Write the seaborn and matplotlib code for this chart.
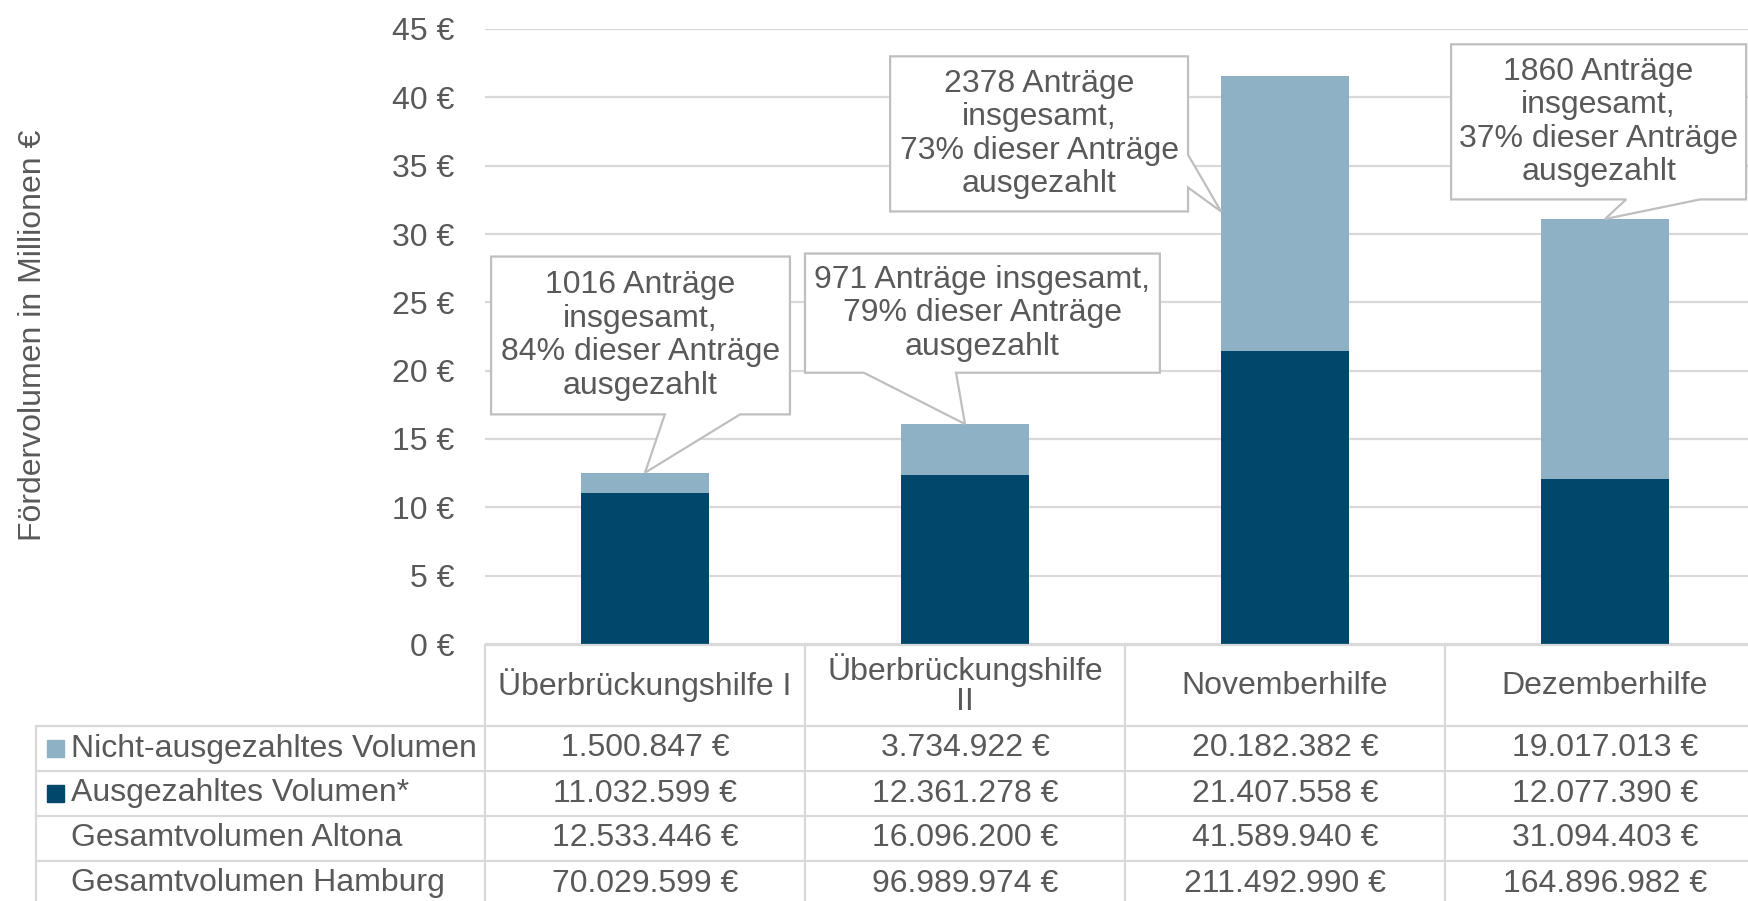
import numpy as np
import matplotlib
matplotlib.use("Agg")
import matplotlib.pyplot as plt
from matplotlib.patches import Polygon, Rectangle
import seaborn as sns

# data
categories = ["Überbrückungshilfe I", "Überbrückungshilfe\nII", "Novemberhilfe", "Dezemberhilfe"]
nicht_ausgezahlt = [1500847, 3734922, 20182382, 19017013]
ausgezahlt = [11032599, 12361278, 21407558, 12077390]
gesamt_altona = [12533446, 16096200, 41589940, 31094403]
gesamt_hamburg = [70029599, 96989974, 211492990, 164896982]
antraege = [1016, 971, 2378, 1860]
quote = [84, 79, 73, 37]
row_labels = ["Nicht-ausgezahltes Volumen", "Ausgezahltes Volumen*",
              "Gesamtvolumen Altona", "Gesamtvolumen Hamburg"]
y_ticks = [0, 5, 10, 15, 20, 25, 30, 35, 40, 45]

DARK = "#00476B"
LIGHT = "#8EB1C5"
GREY_TXT = "#595959"
GRID = "#D9D9D9"
BOX = "#BFBFBF"
FS = 23

sns.set_theme(style="white")
plt.rcParams["font.family"] = ["Liberation Sans", "DejaVu Sans"]

W, H = 1749, 901
fig = plt.figure(figsize=(W / 100, H / 100), dpi=100)
fig.patch.set_facecolor("white")

# main axes, placed in pixel terms
ax_l, ax_r, ax_t, ax_b = 485, 1765, 29, 644
ax = fig.add_axes([ax_l / W, 1 - ax_b / H, (ax_r - ax_l) / W, (ax_b - ax_t) / H])

paid_m = [v / 1e6 for v in ausgezahlt]
total_m = [(a + b) / 1e6 for a, b in zip(ausgezahlt, nicht_ausgezahlt)]
xcat = list(range(len(categories)))

sns.barplot(x=xcat, y=total_m, color=LIGHT, saturation=1, width=0.4, linewidth=0, ax=ax, zorder=2)
sns.barplot(x=xcat, y=paid_m, color=DARK, saturation=1, width=0.4, linewidth=0, ax=ax, zorder=3)

ax.set_xlim(-0.5, 3.5)
ax.set_ylim(0, 45)
ax.set_yticks(y_ticks)
ax.set_yticklabels([f"{t} €" for t in y_ticks])
ax.tick_params(axis="y", length=0, pad=22, labelsize=FS, labelcolor=GREY_TXT)
ax.tick_params(axis="x", length=0, labelbottom=False)
ax.set_xlabel("")
ax.set_ylabel("")
ax.yaxis.grid(True, color=GRID, lw=1.6)
ax.set_axisbelow(True)
for s in ax.spines.values():
    s.set_visible(False)


def callout(x0, x1, y0, y1, base, tip, text, side="bottom"):
    if side == "bottom":
        verts = [(x0, y1), (x1, y1), (x1, y0), (base[1], y0), tip, (base[0], y0), (x0, y0)]
    else:
        verts = [(x0, y1), (x1, y1), (x1, base[1]), tip, (x1, base[0]), (x1, y0), (x0, y0)]
    ax.add_patch(Polygon(verts, closed=True, facecolor="white", edgecolor=BOX,
                         lw=1.6, zorder=5, clip_on=False))
    ax.text((x0 + x1) / 2, (y0 + y1) / 2, text, ha="center", va="center",
            fontsize=FS, color=GREY_TXT, linespacing=1.15, zorder=6)


txt = [f"{antraege[0]} Anträge\ninsgesamt,\n{quote[0]}% dieser Anträge\nausgezahlt",
       f"{antraege[1]} Anträge insgesamt,\n{quote[1]}% dieser Anträge\nausgezahlt",
       f"{antraege[2]} Anträge\ninsgesamt,\n{quote[2]}% dieser Anträge\nausgezahlt",
       f"{antraege[3]} Anträge\ninsgesamt,\n{quote[3]}% dieser Anträge\nausgezahlt"]

callout(-0.481, 0.453, 16.8, 28.35, (0.062, 0.297), (0, total_m[0]), txt[0])
callout(0.5, 1.609, 19.85, 28.57, (0.684, 0.972), (1, total_m[1]), txt[1])
callout(0.766, 1.697, 31.65, 43.0, (33.4, 35.8), (1.8, 31.65), txt[2], side="right")
callout(2.519, 3.441, 32.53, 43.88, (3.066, 3.297), (3, total_m[3]), txt[3])

# y label
fig.text(33 / W, 1 - 335 / H, "Fördervolumen in Millionen €", rotation=90,
         ha="center", va="center", fontsize=FS, color=GREY_TXT)

# data table underneath, drawn in pixel coordinates
tab = fig.add_axes([0, 0, 1, 1])
tab.set_xlim(0, W)
tab.set_ylim(H, 0)
tab.axis("off")
tab.patch.set_alpha(0)

col_w = (ax_r - ax_l) / len(categories)
col_x = [ax_l + i * col_w for i in range(len(categories) + 1)]
hdr_top, hdr_bot, row_h = 645, 726, 45
row_y = [hdr_bot + i * row_h for i in range(len(row_labels) + 1)]
lab_l = 36
lc = dict(color=GRID, lw=1.6)

tab.plot([ax_l, ax_r], [hdr_top, hdr_top], **lc)
for y in row_y[:-1]:
    tab.plot([lab_l, ax_r], [y, y], **lc)
tab.plot([lab_l, lab_l], [hdr_bot, row_y[-1]], **lc)
for x in col_x:
    tab.plot([x, x], [hdr_top, row_y[-1]], **lc)

for i, c in enumerate(categories):
    tab.text(col_x[i] + col_w / 2, (hdr_top + hdr_bot) / 2, c, ha="center", va="center",
             fontsize=FS, color=GREY_TXT, linespacing=1.0)

rows = [nicht_ausgezahlt, ausgezahlt, gesamt_altona, gesamt_hamburg]
swatch = [LIGHT, DARK, None, None]
for r, (lab, vals) in enumerate(zip(row_labels, rows)):
    cy = row_y[r] + row_h / 2
    if swatch[r]:
        tab.add_patch(Rectangle((47, cy - 9), 17, 17, color=swatch[r]))
    tab.text(71, cy, lab, ha="left", va="center", fontsize=FS, color=GREY_TXT)
    for i, v in enumerate(vals):
        s = f"{v:,}".replace(",", ".") + " €"
        tab.text(col_x[i] + col_w / 2, cy, s, ha="center", va="center",
                 fontsize=FS, color=GREY_TXT)

fig.savefig("out.png", dpi=100)
